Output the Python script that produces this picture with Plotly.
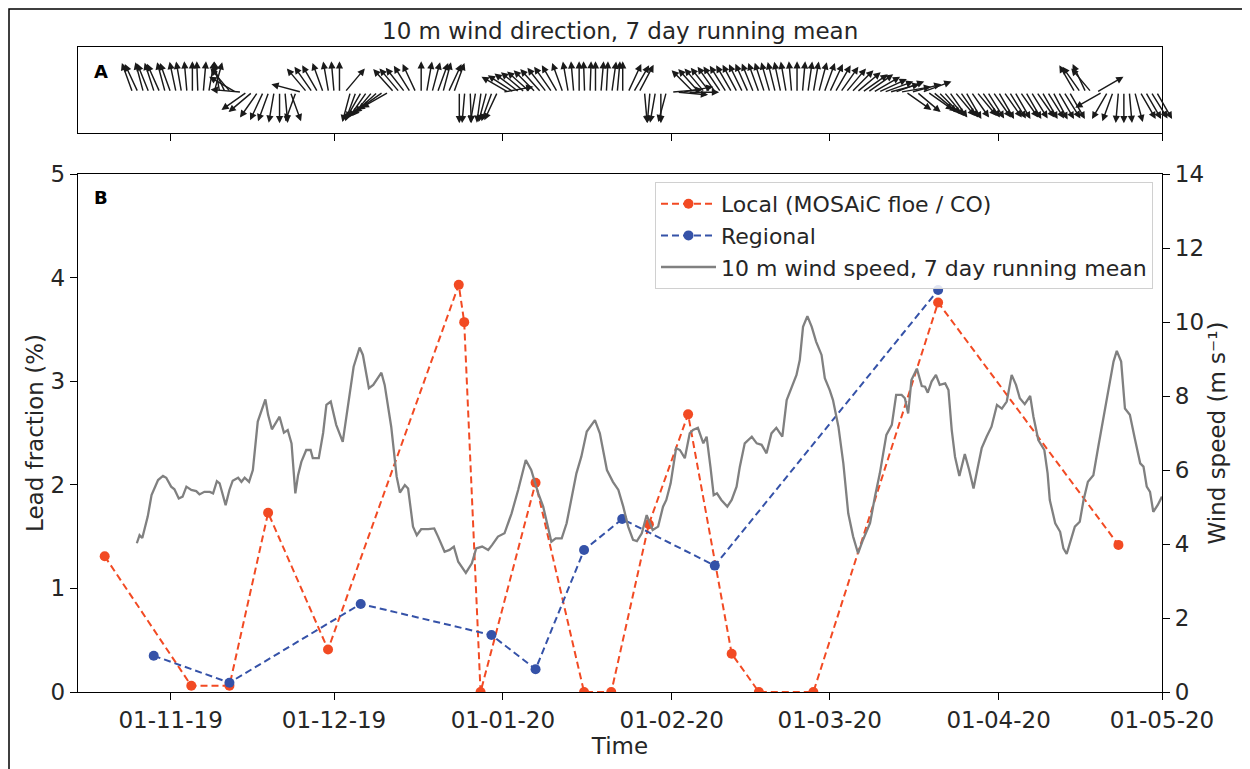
import numpy as np
import pandas as pd
import plotly.graph_objects as go

# ---------------- data ----------------
REF = pd.Timestamp("2019-11-01")  # day offsets below are days since this date

# Lead fraction, local (MOSAiC floe / CO)
local_day = [-12.1, 3.8, 10.8, 17.9, 28.9, 52.9, 53.9, 56.9, 67.0, 75.9,
             80.9, 87.8, 95.0, 103.0, 108.0, 118.0, 140.9, 174.0]
local_frac = [1.31, 0.06, 0.06, 1.73, 0.41, 3.93, 3.57, 0.0, 2.02, 0.0,
              0.0, 1.62, 2.68, 0.37, 0.0, 0.0, 3.76, 1.42]

# Lead fraction, regional
regional_day = [-3.1, 10.8, 34.9, 58.9, 67.0, 75.9, 82.9, 99.9, 140.9]
regional_frac = [0.35, 0.09, 0.85, 0.55, 0.22, 1.37, 1.67, 1.22, 3.88]

# 10 m wind speed, 7 day running mean (m/s)
wind_day = [-6.2, -5.7, -5.2, -4.2, -3.5, -2.3, -1.4, -0.8, 0.1, 0.7,
            1.5, 2.2, 2.9, 3.8, 4.7, 5.3, 6.2, 7.2, 7.8, 8.5,
            9.0, 10.1, 10.8, 11.4, 12.4, 13.0, 13.6, 14.4, 15.1, 16.0,
            17.4, 17.9, 18.6, 19.1, 20.0, 20.8, 21.5, 22.2, 22.9, 23.4,
            24.0, 24.9, 25.7, 26.1, 27.2, 28.0, 28.6, 29.4, 30.4, 31.6,
            32.9, 33.6, 34.7, 35.3, 36.4, 37.2, 38.7, 39.3, 40.5, 41.5,
            42.1, 43.0, 43.6, 44.5, 45.2, 46.0, 47.3, 48.4, 49.1, 50.3,
            51.2, 52.0, 52.8, 54.2, 55.3, 56.1, 57.2, 58.3, 59.0, 60.1,
            61.3, 62.6, 63.8, 65.2, 66.2, 67.5, 68.4, 69.3, 69.9, 70.7,
            71.8, 72.7, 73.6, 74.5, 75.4, 76.4, 77.9, 78.8, 80.1, 81.2,
            82.2, 83.1, 84.0, 84.9, 85.6, 86.5, 87.4, 88.5, 89.5, 90.4,
            91.0, 91.8, 92.8, 93.5, 94.4, 95.3, 95.9, 96.8, 97.8, 98.4,
            99.1, 99.7, 100.3, 101.1, 102.2, 103.0, 103.9, 104.5, 105.4, 106.7,
            107.6, 108.5, 109.4, 110.3, 111.2, 112.3, 113.1, 114.0, 114.9, 115.5,
            116.1, 116.9, 117.7, 118.5, 119.5, 120.1, 121.0, 121.6, 122.6, 123.5,
            124.4, 125.3, 126.2, 127.1, 128.4, 129.3, 130.2, 131.4, 132.4, 133.2,
            134.2, 134.8, 135.4, 136.0, 137.0, 137.9, 138.5, 139.0, 139.7, 140.5,
            141.2, 142.2, 142.8, 143.4, 144.0, 144.8, 145.8, 146.6, 147.4, 148.2,
            148.9, 149.8, 150.7, 151.7, 152.6, 153.5, 154.4, 155.2, 155.9, 156.8,
            157.8, 158.4, 159.3, 160.4, 161.0, 161.4, 162.4, 163.3, 163.9, 164.5,
            165.3, 166.0, 166.9, 167.6, 168.4, 169.4, 170.3, 171.2, 172.2, 173.1,
            173.7, 174.5, 175.2, 176.1, 177.0, 178.0, 178.6, 179.2, 179.8, 180.4,
            181.2, 182.0]
wind_speed = [4.02, 4.24, 4.16, 4.74, 5.32, 5.73, 5.84, 5.79, 5.55, 5.48,
              5.23, 5.28, 5.55, 5.46, 5.43, 5.34, 5.41, 5.41, 5.37, 5.70,
              5.64, 5.05, 5.46, 5.71, 5.79, 5.68, 5.79, 5.68, 6.00, 7.31,
              7.91, 7.49, 7.10, 7.22, 7.44, 7.01, 7.08, 6.72, 5.37, 5.86,
              6.22, 6.54, 6.54, 6.32, 6.32, 7.00, 7.76, 7.85, 7.22, 6.76,
              8.12, 8.79, 9.31, 9.11, 8.21, 8.30, 8.63, 8.30, 7.17, 5.82,
              5.39, 5.59, 5.50, 4.47, 4.24, 4.40, 4.40, 4.42, 4.20, 3.79,
              3.84, 3.93, 3.52, 3.22, 3.48, 3.88, 3.93, 3.84, 3.97, 4.20,
              4.29, 4.83, 5.46, 6.27, 6.00, 5.37, 5.01, 4.38, 4.06, 4.15,
              4.15, 4.56, 5.28, 5.91, 6.36, 7.04, 7.35, 6.99, 6.00, 5.68,
              5.46, 5.01, 4.47, 4.11, 4.08, 4.29, 4.78, 4.38, 4.47, 5.01,
              5.19, 5.64, 6.59, 6.54, 6.32, 6.99, 7.08, 7.14, 6.72, 6.90,
              6.09, 5.32, 5.37, 5.19, 5.01, 5.19, 5.55, 6.09, 6.72, 6.90,
              6.72, 6.68, 6.45, 6.99, 7.14, 6.90, 7.89, 8.21, 8.57, 8.97,
              9.87, 10.16, 9.87, 9.47, 9.11, 8.48, 8.16, 7.89, 7.17, 6.18,
              4.83, 4.20, 3.75, 4.11, 4.56, 5.28, 5.91, 6.95, 7.22, 8.03,
              8.03, 7.94, 7.53, 8.43, 8.74, 8.27, 8.25, 8.09, 8.39, 8.57,
              8.30, 8.34, 8.16, 7.08, 6.36, 5.84, 6.43, 6.00, 5.50, 6.09,
              6.59, 6.90, 7.17, 7.76, 7.66, 7.85, 8.57, 8.30, 7.94, 7.78,
              8.00, 7.44, 6.81, 6.54, 5.91, 5.19, 4.56, 4.33, 3.88, 3.73,
              4.11, 4.47, 4.60, 5.19, 5.68, 5.86, 6.63, 7.40, 8.25, 8.93,
              9.22, 8.93, 7.66, 7.49, 6.86, 6.18, 6.09, 5.55, 5.41, 4.87,
              5.05, 5.28]

# Daily 10 m wind direction (7 day running mean), heading the arrow points to (deg, 0 = north, clockwise)
arrow_first_day = "2019-10-25"
wind_to_deg = [
    340, 335, 345, 338, 342, 336, 345, 340, 348, 350,   # Oct 25 - Nov 3
    355, 0, 358, 5, 10, 15, 350, 335, 320, 300,          # Nov 4 - Nov 13
    275, 235, 230, 215, 205, 200, 190, 180, 175, 160,    # Nov 14 - Nov 23
    200, 285, 320, 325, 330, 340, 350, 355, 0, 40,       # Nov 24 - Dec 3
    195, 200, 210, 215, 220, 228, 235, 240, 318, 320,    # Dec 4 - Dec 13
    322, 328, 335, 0, 10, 15, 20, 15, 25, 20,            # Dec 14 - Dec 23
    180, 185, 178, 190, 188, 195, 200, 205, 80, 300,     # Dec 24 - Jan 2
    303, 307, 310, 312, 315, 318, 322, 325, 330, 340,    # Jan 3 - Jan 12
    350, 355, 0, 358, 2, 0, 5, 3, 8, 5,                  # Jan 13 - Jan 22
    0, 25, 30, 28, 175, 185, 190, 180, 195, 85,          # Jan 23 - Feb 1
    95, 80, 90, 315, 318, 320, 322, 325, 326, 328,       # Feb 2 - Feb 11
    330, 332, 334, 336, 338, 340, 342, 344, 346, 348,    # Feb 12 - Feb 21
    350, 355, 0, 5, 8, 10, 15, 20, 25, 30,               # Feb 22 - Mar 2
    35, 40, 45, 50, 55, 55, 60, 65, 70, 75,              # Mar 3 - Mar 12
    70, 80, 125, 75, 130, 70, 125, 130, 135, 140,        # Mar 13 - Mar 22
    145, 140, 145, 150, 145, 140, 145, 148, 145, 150,    # Mar 23 - Apr 1
    145, 148, 150, 145, 150, 148, 145, 150, 148, 152,    # Apr 2 - Apr 11
    150, 148, 150, 330, 325, 335, 320, 60, 240, 210,     # Apr 12 - Apr 21
    200, 185, 180, 175, 165, 150, 150, 148, 150,         # Apr 22 - Apr 30
]

tick_dates = ["2019-11-01", "2019-12-01", "2020-01-01", "2020-02-01",
              "2020-03-01", "2020-04-01", "2020-05-01"]
tick_text = ["01-11-19", "01-12-19", "01-01-20", "01-02-20",
             "01-03-20", "01-04-20", "01-05-20"]
x_range = ["2019-10-15", "2020-05-01"]

# ---------------- styling ----------------
FONT = "DejaVu Sans"
TXT = "#262626"
RED = "#f24a23"
BLUE = "#3552a8"
GREY = "#808080"
W, H = 1250, 769
OFF = 8  # the page body margin shifts the figure by 8 px
ML, MR, MT, MB = 78 - OFF, 88 + OFF, 47 - OFF, 77 + OFF
PH = H - MT - MB
PW = W - ML - MR

def to_dates(days):
    return REF + pd.to_timedelta(np.asarray(days, dtype=float), unit="D")

def px_x(screen_x):  # screen pixel -> paper x
    return (screen_x - OFF - ML) / PW

def px_y(screen_y):  # screen pixel -> paper y
    return (H - MB - (screen_y - OFF)) / PH

fig = go.Figure()

fig.add_trace(go.Scatter(
    x=to_dates(local_day), y=local_frac, mode="lines+markers",
    name="Local (MOSAiC floe / CO)", xaxis="x", yaxis="y",
    line=dict(color=RED, width=2, dash="7px,4px"),
    marker=dict(color=RED, size=10)))
fig.add_trace(go.Scatter(
    x=to_dates(regional_day), y=regional_frac, mode="lines+markers",
    name="Regional", xaxis="x", yaxis="y",
    line=dict(color=BLUE, width=2, dash="7px,4px"),
    marker=dict(color=BLUE, size=10)))
fig.add_trace(go.Scatter(
    x=to_dates(wind_day), y=wind_speed, mode="lines",
    name="10 m wind speed, 7 day running mean", xaxis="x", yaxis="y3",
    line=dict(color=GREY, width=2.3)))

arrow_dates = pd.date_range(arrow_first_day, periods=len(wind_to_deg), freq="D")
fig.add_trace(go.Scatter(x=arrow_dates, y=np.zeros(len(arrow_dates)), mode="markers",
                         marker=dict(size=0.1, opacity=0), showlegend=False,
                         hoverinfo="skip", xaxis="x2", yaxis="y2"))

# quiver arrows (tail on the baseline, fixed length in pixels)
L = 31
annotations = []
for d, hd in zip(arrow_dates, wind_to_deg):
    th = np.deg2rad(hd)
    dx = L * np.sin(th)
    dy = L * np.cos(th)
    annotations.append(dict(
        x=d, y=0, xref="x2", yref="y2", text="", showarrow=True,
        ax=-dx, ay=dy, axref="pixel", ayref="pixel",
        xshift=dx, yshift=dy,
        arrowhead=2, arrowsize=1.0, arrowwidth=1.45, arrowcolor="#1a1a1a"))

main_top = px_y(174)
top_bottom = px_y(133)

annotations.append(dict(text="10 m wind direction, 7 day running mean", x=0.5, y=1.0,
                        xref="paper", yref="paper", xanchor="center", yanchor="bottom",
                        yshift=1, showarrow=False, font=dict(family=FONT, size=23, color=TXT)))
annotations.append(dict(text="<b>A</b>", x=0.013, y=0.72, xref="x2 domain", yref="y2 domain",
                        xanchor="left", yanchor="middle", showarrow=False,
                        font=dict(family=FONT, size=18, color="#000")))
annotations.append(dict(text="<b>B</b>", x=0.013, y=0.955, xref="x domain", yref="y domain",
                        xanchor="left", yanchor="middle", showarrow=False,
                        font=dict(family=FONT, size=18, color="#000")))

axis_common = dict(showline=True, linecolor="#000", linewidth=1.3, showgrid=False,
                   zeroline=False, ticks="outside", ticklen=7, tickwidth=1.3,
                   tickcolor="#000", tickfont=dict(family=FONT, size=23, color=TXT))

fig.update_layout(
    width=W, height=H,
    margin=dict(l=ML, r=MR, t=MT, b=MB),
    paper_bgcolor="white", plot_bgcolor="white",
    font=dict(family=FONT, color=TXT),
    showlegend=True,
    legend=dict(x=px_x(1153), y=px_y(182), xanchor="right", yanchor="top",
                bgcolor="rgba(255,255,255,0.85)", bordercolor="#d0d0d0", borderwidth=1,
                font=dict(family=FONT, size=22, color=TXT), itemwidth=55,
                tracegroupgap=0),
    xaxis=dict(domain=[0, 1], anchor="y", type="date", range=x_range,
               tickvals=tick_dates, ticktext=tick_text, mirror=True,
               title=dict(text="Time", font=dict(family=FONT, size=23, color=TXT), standoff=6),
               **axis_common),
    yaxis=dict(domain=[0, main_top], anchor="x", range=[0, 5], dtick=1, mirror=True,
               title=dict(text="Lead fraction (%)", font=dict(family=FONT, size=23, color=TXT), standoff=0),
               **axis_common),
    yaxis3=dict(overlaying="y", side="right", anchor="x", range=[0, 14], dtick=2,
                title=dict(text="Wind speed (m s⁻¹)", font=dict(family=FONT, size=23, color=TXT), standoff=3),
                **axis_common),
    xaxis2=dict(domain=[0, 1], anchor="y2", type="date", range=x_range, matches="x",
                tickvals=tick_dates, showticklabels=False, mirror=True,
                **axis_common),
    yaxis2=dict(domain=[top_bottom, 1], anchor="x2", range=[-0.95, 1.05],
                showticklabels=False, showline=True, linecolor="#000", linewidth=1.3,
                mirror=True, showgrid=False, zeroline=False, ticks=""),
    annotations=annotations,
    shapes=[dict(type="rect", xref="paper", yref="paper",
                 x0=px_x(9), x1=px_x(1247),
                 y0=px_y(800), y1=px_y(9),
                 line=dict(color="#000", width=1.5), fillcolor="rgba(0,0,0,0)", layer="below")],
)

fig.write_html("out.html")
